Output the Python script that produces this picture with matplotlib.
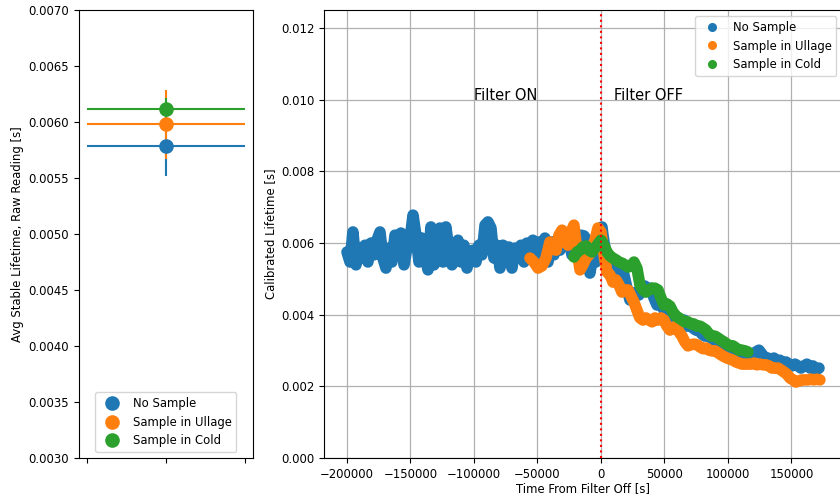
import numpy as np
import matplotlib
matplotlib.use("Agg")
import matplotlib.pyplot as plt
from matplotlib.lines import Line2D

plt.rcParams['font.size'] = 8.4

# series names, shared by both panels
labels = ["No Sample", "Sample in Ullage", "Sample in Cold"]
colors = ["tab:blue", "tab:orange", "tab:green"]

# left panel: averaged stable lifetime with error bars
avgLifetime = [0.00579, 0.00598, 0.00612]
avgErr = [0.00027, 0.00031, 0.00010]

# right panel: calibrated lifetime vs time from filter off
timeNoSample = [-200000, -197600, -195300, -192900, -190600, -188200, -185800, -183500, -181100, -178700,
                -176400, -174000, -171700, -169300, -166900, -164600, -162200, -159800, -157500, -155100,
                -152800, -150400, -148000, -145700, -143300, -141000, -138600, -136200, -133900, -131500,
                -129100, -126800, -124400, -122100, -119700, -117300, -115000, -112600, -110200, -107900,
                -105500, -103200, -100800, -98400, -96100, -93700, -91300, -89000, -86600, -84300,
                -81900, -79500, -77200, -74800, -72500, -70100, -67700, -65400, -63000, -60600,
                -58300, -55900, -53600, -51200, -48800, -46500, -44100, -41700, -39400, -37000,
                -34700, -32300, -29900, -27600, -25200, -22900, -20500, -18100, -15800, -13400,
                -11000, -8700, -6300, -4000, -1600, 800,
                1600, 3900, 6300, 8700, 11000, 13400, 15700, 18100, 20500, 22800,
                25200, 27600, 29900, 32300, 34600, 37000, 39400, 41700, 44100, 46500,
                48800, 51200, 53500, 55900, 58300, 60600, 63000, 65400, 67700, 70100,
                72400, 74800, 77200, 79500, 81900, 84300, 86600, 89000, 91300, 93700,
                96100, 98400, 100800, 103100, 105500, 107900, 110200, 112600, 115000, 117300,
                119700, 122000, 124400, 126800, 129100, 131500, 133900, 136200, 138600, 140900,
                143300, 145700, 148000, 150400, 152800, 155100, 157500, 159800, 162200, 164600,
                166900, 169300, 171700]
lifeNoSample = [0.00575, 0.00547, 0.00631, 0.00539, 0.00586, 0.00558, 0.00594, 0.00547, 0.00600, 0.00567,
                0.00608, 0.00631, 0.00558, 0.00530, 0.00586, 0.00547, 0.00622, 0.00608, 0.00628, 0.00539,
                0.00586, 0.00608, 0.00678, 0.00622, 0.00547, 0.00614, 0.00567, 0.00525, 0.00645, 0.00539,
                0.00608, 0.00642, 0.00547, 0.00645, 0.00580, 0.00539, 0.00594, 0.00608, 0.00547, 0.00594,
                0.00530, 0.00575, 0.00580, 0.00547, 0.00594, 0.00567, 0.00650, 0.00659, 0.00642, 0.00558,
                0.00594, 0.00530, 0.00594, 0.00547, 0.00589, 0.00530, 0.00586, 0.00558, 0.00594, 0.00547,
                0.00600, 0.00567, 0.00608, 0.00558, 0.00603, 0.00547, 0.00614, 0.00547, 0.00603, 0.00567,
                0.00608, 0.00580, 0.00631, 0.00594, 0.00614, 0.00567, 0.00608, 0.00580, 0.00622, 0.00620,
                0.00608, 0.00516, 0.00567, 0.00547, 0.00608, 0.00645,
                0.00622, 0.00567, 0.00530, 0.00547, 0.00525, 0.00536, 0.00519, 0.00511, 0.00474, 0.00441,
                0.00452, 0.00463, 0.00455, 0.00469, 0.00480, 0.00469, 0.00474, 0.00447, 0.00427, 0.00435,
                0.00419, 0.00402, 0.00407, 0.00396, 0.00391, 0.00385, 0.00380, 0.00385, 0.00368, 0.00374,
                0.00363, 0.00357, 0.00357, 0.00346, 0.00340, 0.00346, 0.00335, 0.00329, 0.00324, 0.00324,
                0.00315, 0.00313, 0.00307, 0.00307, 0.00301, 0.00296, 0.00296, 0.00287, 0.00287, 0.00285,
                0.00290, 0.00296, 0.00301, 0.00290, 0.00279, 0.00279, 0.00273, 0.00279, 0.00268, 0.00273,
                0.00262, 0.00268, 0.00262, 0.00257, 0.00262, 0.00257, 0.00251, 0.00257, 0.00262, 0.00251,
                0.00257, 0.00246, 0.00251]

timeUllage = [-55900, -52800, -49600, -46500, -43300, -40200, -37800, -35400, -33100, -30700,
              -28300, -26000, -23600, -21300, -18900, -16500, -14200, -11800, -9400, -7100,
              -4700, -2400, 0, 2400, 4700, 7100, 9400, 11800, 14200, 16500,
              18900, 21300, 23600, 26000, 28300, 30700, 33100, 35400, 37800, 40200,
              42500, 44900, 47200, 49600, 52000, 54300, 56700, 59100, 61400, 63800,
              66100, 68500, 70900, 73200, 75600, 78000, 80300, 82700, 85000, 87400,
              89800, 92100, 94500, 96900, 99200, 101600, 103900, 106300, 108700, 111000,
              113400, 115700, 118100, 120500, 122800, 125200, 127600, 129900, 132300, 134600,
              137000, 139400, 141700, 144100, 146500, 148800, 151200, 153500, 155900, 158300,
              160600, 163000, 165400, 167700, 170100, 172400]
lifeUllage = [0.00558, 0.00547, 0.00530, 0.00536, 0.00558, 0.00603, 0.00586, 0.00580, 0.00622, 0.00636,
              0.00608, 0.00594, 0.00631, 0.00650, 0.00580, 0.00525, 0.00539, 0.00558, 0.00567, 0.00586,
              0.00608, 0.00642, 0.00631, 0.00567, 0.00519, 0.00511, 0.00491, 0.00497, 0.00483, 0.00463,
              0.00469, 0.00469, 0.00452, 0.00435, 0.00413, 0.00391, 0.00385, 0.00391, 0.00385, 0.00380,
              0.00391, 0.00385, 0.00391, 0.00385, 0.00368, 0.00357, 0.00363, 0.00368, 0.00352, 0.00340,
              0.00324, 0.00313, 0.00316, 0.00318, 0.00316, 0.00310, 0.00305, 0.00307, 0.00301, 0.00299,
              0.00299, 0.00294, 0.00288, 0.00283, 0.00279, 0.00276, 0.00273, 0.00268, 0.00265, 0.00262,
              0.00262, 0.00262, 0.00262, 0.00265, 0.00260, 0.00262, 0.00260, 0.00260, 0.00257, 0.00251,
              0.00251, 0.00251, 0.00246, 0.00240, 0.00234, 0.00223, 0.00218, 0.00212, 0.00215, 0.00218,
              0.00218, 0.00218, 0.00220, 0.00218, 0.00220, 0.00218]

timeCold = [-21300, -18900, -16500, -14200, -11800, -9400, -7100, -4700, -2400, 0,
            2400, 4700, 7100, 9400, 11800, 14200, 16500, 18900, 21300, 23600,
            26000, 28300, 30700, 33100, 35400, 37800, 40200, 42500, 44900, 47200,
            49600, 52000, 54300, 56700, 59100, 61400, 63800, 66100, 68500, 70900,
            73200, 75600, 78000, 80300, 82700, 85000, 87400, 89800, 92100, 94500,
            96900, 99200, 101600, 103900, 106300, 108700, 111000, 113400, 115700]
lifeCold = [0.00561, 0.00575, 0.00580, 0.00589, 0.00592, 0.00580, 0.00575, 0.00586, 0.00597, 0.00608,
            0.00594, 0.00575, 0.00564, 0.00558, 0.00553, 0.00547, 0.00544, 0.00539, 0.00533, 0.00536,
            0.00547, 0.00530, 0.00483, 0.00469, 0.00463, 0.00469, 0.00474, 0.00474, 0.00469, 0.00447,
            0.00427, 0.00430, 0.00424, 0.00407, 0.00396, 0.00391, 0.00385, 0.00380, 0.00380, 0.00374,
            0.00374, 0.00368, 0.00368, 0.00363, 0.00357, 0.00346, 0.00340, 0.00340, 0.00335, 0.00329,
            0.00324, 0.00318, 0.00313, 0.00313, 0.00307, 0.00301, 0.00301, 0.00299, 0.00296]

fig = plt.figure(figsize=(8.4, 4.97), dpi=100)
ax1 = fig.add_axes([0.094, 0.0785, 0.207, 0.901])
ax2 = fig.add_axes([0.3857, 0.0785, 0.6167, 0.901])

# left: one errorbar point per configuration
for i in range(3):
    ax1.errorbar(0, avgLifetime[i], xerr=1, yerr=avgErr[i], fmt='o', ms=9.5, color=colors[i], label=labels[i])
ax1.set_xlim(-1.1, 1.1)
ax1.set_ylim(0.003, 0.007)
ax1.set_xticks([-1, 0, 1])
ax1.set_xticklabels(["", "", ""])
ax1.set_yticks(np.arange(0.003, 0.00701, 0.0005))
ax1.yaxis.set_major_formatter(matplotlib.ticker.FormatStrFormatter('%.4f'))
ax1.set_ylabel("Avg Stable Lifetime, Raw Reading [s]", labelpad=3)
ax1.legend(loc='lower center')

# right: time series drawn as thick bands
seriesTimes = [timeNoSample, timeUllage, timeCold]
seriesLife = [lifeNoSample, lifeUllage, lifeCold]
for i in range(3):
    ax2.plot(seriesTimes[i], seriesLife[i], color=colors[i], lw=8.3,
             solid_capstyle='round', solid_joinstyle='round')
ax2.axvline(0, color='red', linestyle=':', lw=1.5)
ax2.text(-100000, 0.010, "Filter ON", fontsize=10.5)
ax2.text(10000, 0.010, "Filter OFF", fontsize=10.5)
ax2.set_xlim(-218100, 189800)
ax2.set_ylim(0, 0.0125)
ax2.set_xticks(np.arange(-200000, 150001, 50000))
ax2.set_yticks(np.arange(0, 0.01201, 0.002))
ax2.yaxis.set_major_formatter(matplotlib.ticker.FormatStrFormatter('%.3f'))
ax2.grid(True, color='#b0b0b0', lw=0.9)
ax2.set_axisbelow(True)
ax2.set_xlabel("Time From Filter Off [s]", labelpad=1)
ax2.set_ylabel("Calibrated Lifetime [s]", labelpad=3)
handles = [Line2D([], [], marker='o', linestyle='none', color=c, ms=5.5) for c in colors]
ax2.legend(handles, labels, loc='upper right')

fig.savefig("out.png", dpi=100)
